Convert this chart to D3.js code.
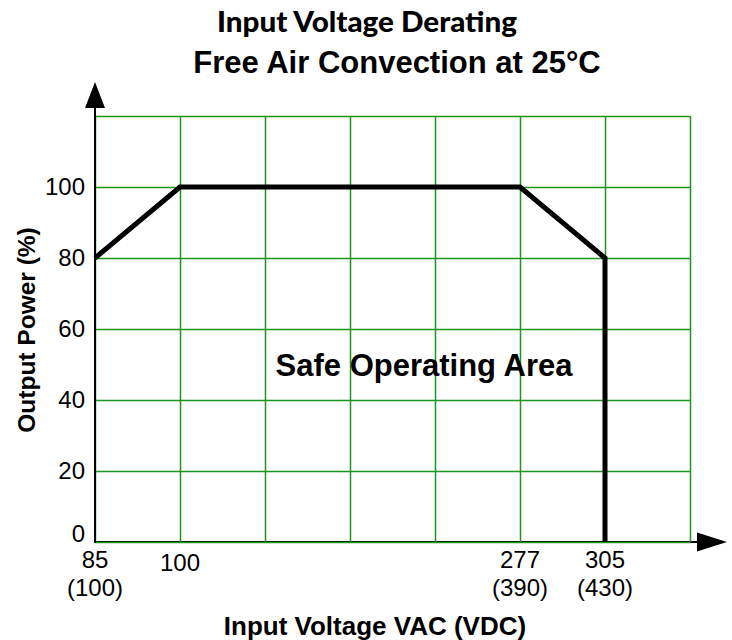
<!DOCTYPE html>
<meta charset="utf-8">
<style>

body {
  margin: 0;
  background: #fff;
}

.grid line {
  stroke: #1f951f;
  stroke-width: 1.5px;
}

.tick-label {
  font: 24px "Liberation Sans", Arial, sans-serif;
  fill: #000;
}

.bold {
  font-family: "Liberation Sans", Arial, sans-serif;
  font-weight: bold;
  fill: #000;
}

</style>
<body>
<script src="https://cdn.jsdelivr.net/npm/d3@7"></script>
<script>
    // y ticks / grid
    var yTicks = [0, 20, 40, 60, 80, 100];
    var yGrid = [0, 20, 40, 60, 80, 100, 120];

    // x ticks: VAC on first line, VDC under it
    var xTicks = [85, 100, 277, 305];
    var xTicksVdc = ["(100)", "", "(390)", "(430)"];

    // derating curve
    var curveVac = [85, 100, 277, 305, 305];
    var curvePower = [80, 100, 100, 80, 0];

    var margin = {top: 116, left: 95},
        width = 595,
        height = 426;

    var svg = d3.select("body").append("svg")
        .attr("width", 732)
        .attr("height", 640);

    var g = svg.append("g")
        .attr("transform", "translate(" + margin.left + "," + margin.top + ")");

    // the chart is drawn as 7 equal grid columns, the voltage axis is not to scale
    var col = d3.scaleLinear().domain([0, 7]).range([0, width]);
    var x = d3.scaleLinear()
        .domain(xTicks)
        .range([col(0), col(1), col(5), col(6)]);

    var y = d3.scaleLinear()
        .domain([0, 120])
        .range([height, 0]);

    // x axis line (black, under the grid)
    g.append("line")
        .attr("x1", 0).attr("x2", width + 10)
        .attr("y1", y(0)).attr("y2", y(0))
        .attr("stroke", "#000").attr("stroke-width", 2);

    // grid
    g.append("g")
        .attr("class", "grid")
        .call(d3.axisLeft(y).tickValues(yGrid).tickSize(-width).tickFormat(""))
        .call(function(s) { s.select(".domain").remove(); });

    g.append("g")
        .attr("class", "grid")
        .attr("transform", "translate(0," + height + ")")
        .call(d3.axisBottom(col).ticks(7).tickSize(-height).tickFormat(""))
        .call(function(s) { s.select(".domain").remove(); });

    // y axis line with arrow
    g.append("line")
        .attr("x1", 0).attr("x2", 0)
        .attr("y1", y(0) + 1).attr("y2", -10)
        .attr("stroke", "#000").attr("stroke-width", 2);

    g.append("path")
        .attr("d", "M0,-34L-10,-8L10,-8Z")
        .attr("fill", "#000");

    // x arrow
    g.append("path")
        .attr("d", "M" + (width + 37) + "," + y(0) + "l-30,-9.5l0,19Z")
        .attr("fill", "#000");

    // y tick labels
    g.append("g")
        .selectAll("text")
        .data(yTicks)
      .enter().append("text")
        .attr("class", "tick-label")
        .attr("x", -10)
        .attr("y", function(d) { return y(d); })
        .attr("dy", function(d) { return d === 0 ? "0.02em" : "0.34em"; })
        .attr("text-anchor", "end")
        .text(function(d) { return d; });

    // x tick labels
    var xt = g.append("g")
        .selectAll("text")
        .data(xTicks)
      .enter().append("text")
        .attr("class", "tick-label")
        .attr("text-anchor", "middle")
        .attr("transform", function(d) { return "translate(" + x(d) + "," + (height + 26) + ")"; });

    xt.append("tspan")
        .attr("x", 0)
        .attr("y", function(d, i) { return i === 1 ? 3 : 0; })
        .text(function(d) { return d; });

    xt.append("tspan")
        .attr("x", 0)
        .attr("y", 28)
        .text(function(d, i) { return xTicksVdc[i]; });

    // derating curve
    var line = d3.line()
        .x(function(d) { return x(d[0]); })
        .y(function(d) { return y(d[1]); });

    g.append("path")
        .datum(d3.zip(curveVac, curvePower))
        .attr("d", line)
        .attr("fill", "none")
        .attr("stroke", "#000")
        .attr("stroke-width", 5)
        .attr("stroke-linejoin", "miter");

    // area label
    g.append("text")
        .attr("class", "bold")
        .attr("x", 329)
        .attr("y", 260)
        .attr("text-anchor", "middle")
        .style("font-size", "31px")
        .text("Safe Operating Area");

    // titles
    svg.append("text")
        .attr("x", 367)
        .attr("y", 32)
        .attr("text-anchor", "middle")
        .attr("textLength", 300)
        .attr("lengthAdjust", "spacingAndGlyphs")
        .style("font", "900 28px Lato, sans-serif")
        .text("Input Voltage Derating");

    svg.append("text")
        .attr("class", "bold")
        .attr("x", 397)
        .attr("y", 73)
        .attr("text-anchor", "middle")
        .style("font-size", "31px")
        .text("Free Air Convection at 25°C");

    // axis titles
    svg.append("text")
        .attr("class", "bold")
        .attr("x", 375)
        .attr("y", 635)
        .attr("text-anchor", "middle")
        .style("font-size", "26px")
        .text("Input Voltage VAC (VDC)");

    svg.append("text")
        .attr("class", "bold")
        .attr("transform", "translate(35,330) rotate(-90)")
        .attr("text-anchor", "middle")
        .style("font-size", "24.5px")
        .text("Output Power (%)");

</script>
